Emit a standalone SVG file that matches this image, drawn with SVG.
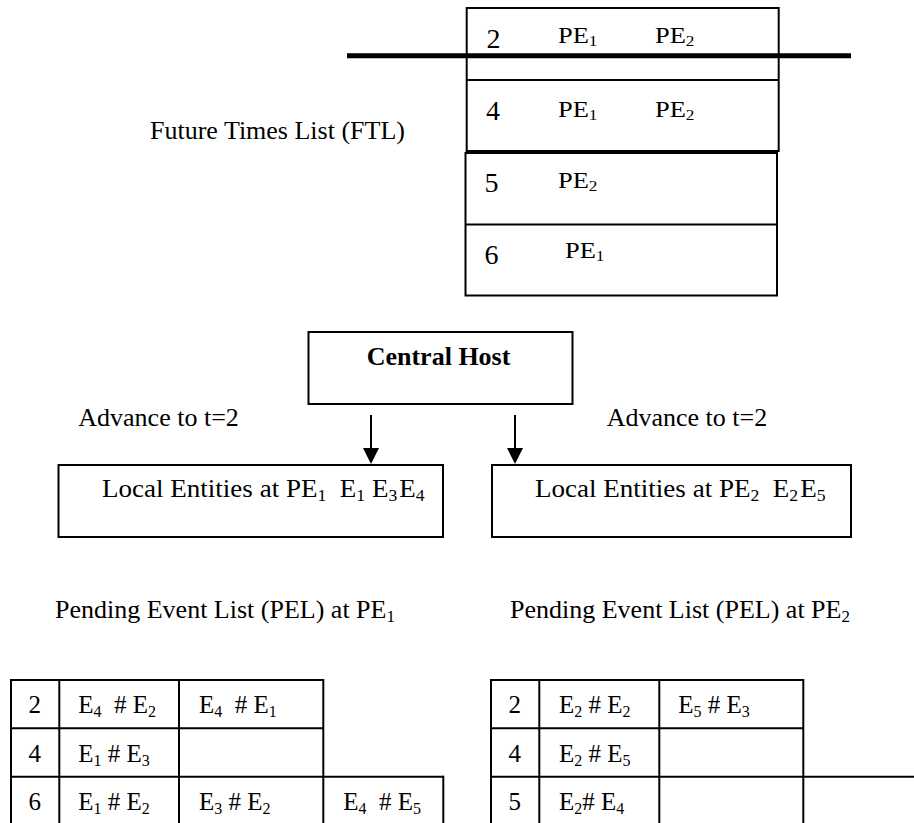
<svg xmlns="http://www.w3.org/2000/svg" width="914" height="823" viewBox="0 0 914 823">
<style>
text{font-family:"Liberation Serif","Times New Roman",serif;fill:#000;white-space:pre}
.m{font-size:26px}
.b{font-size:26px;font-weight:bold}
.d{font-size:28px}
.pe{font-size:23px}
.t{font-size:25px}
.box{fill:none;stroke:#000;stroke-width:2}
.ln{stroke:#000;stroke-width:2;fill:none}
.s1{font-size:17px}
.s2{font-size:15px}
.s3{font-size:16px}
</style>
<rect width="914" height="823" fill="#fff"/>

<g id="ftl-label"><text class="m" x="150" y="139">Future Times List (FTL)</text></g>

<g id="ftl-box1">
<rect class="box" x="466.7" y="8" width="312" height="143"/>
<line class="ln" x1="466.7" y1="80" x2="778.7" y2="80"/>
<text class="d" x="486.5" y="48">2</text>
<text class="pe" transform="translate(558 43) scale(1.15 1)">PE<tspan class="s2" dy="3">1</tspan></text>
<text class="pe" transform="translate(655 43) scale(1.15 1)">PE<tspan class="s2" dy="3">2</tspan></text>
<text class="d" x="486" y="120">4</text>
<text class="pe" transform="translate(558 116.5) scale(1.15 1)">PE<tspan class="s2" dy="3">1</tspan></text>
<text class="pe" transform="translate(655 116.5) scale(1.15 1)">PE<tspan class="s2" dy="3">2</tspan></text>
</g>
<g id="ftl-box2">
<rect class="box" x="465.5" y="153" width="311.5" height="142.5"/>
<line class="ln" x1="465.5" y1="224.5" x2="777" y2="224.5"/>
<text class="d" x="484.5" y="191.5">5</text>
<text class="pe" transform="translate(558 188) scale(1.15 1)">PE<tspan class="s2" dy="3">2</tspan></text>
<text class="d" x="484.5" y="264">6</text>
<text class="pe" transform="translate(565 258) scale(1.15 1)">PE<tspan class="s2" dy="3">1</tspan></text>
</g>
<g id="time-line"><line x1="347" y1="55.7" x2="851" y2="55.7" stroke="#000" stroke-width="5"/></g>

<g id="central-host">
<rect class="box" x="308.5" y="332" width="264" height="72"/>
<text class="b" x="366.7" y="365">Central Host</text>
</g>

<g id="advance-left"><text class="m" x="78.3" y="426">Advance to t=2</text></g>
<g id="advance-right"><text class="m" x="606.7" y="426">Advance to t=2</text></g>

<g id="connectors">
<line class="ln" x1="371" y1="415" x2="371" y2="450"/>
<polygon points="363,448 379,448 371,464" fill="#000"/>
<line class="ln" x1="515" y1="415" x2="515" y2="450"/>
<polygon points="507,448 523,448 515,464" fill="#000"/>
</g>

<g id="local-pe1">
<rect class="box" x="58.5" y="465" width="384.5" height="72" stroke-width="2.5"/>
<text class="m" transform="translate(102 497) scale(1.04 1)">Local Entities at PE<tspan class="s1" dy="4">1</tspan><tspan dy="-4">  E</tspan><tspan class="s1" dy="4">1</tspan><tspan dy="-4"> E</tspan><tspan class="s1" dy="4">3</tspan><tspan dy="-4" dx="2">E</tspan><tspan class="s1" dy="4">4</tspan></text>
</g>
<g id="local-pe2">
<rect class="box" x="492" y="465" width="359" height="72" stroke-width="2.5"/>
<text class="m" transform="translate(535 497) scale(1.04 1)">Local Entities at PE<tspan class="s1" dy="4">2</tspan><tspan dy="-4">  E</tspan><tspan class="s1" dy="4">2</tspan><tspan dy="-4" dx="2">E</tspan><tspan class="s1" dy="4">5</tspan></text>
</g>

<g id="pel-label-1"><text class="m" x="55" y="618.3">Pending Event List (PEL) at PE<tspan class="s1" dy="4">1</tspan></text></g>
<g id="pel-label-2"><text class="m" x="510" y="618.3">Pending Event List (PEL) at PE<tspan class="s1" dy="4">2</tspan></text></g>

<g id="pel-table-1">
<line class="ln" x1="11" y1="680" x2="323.3" y2="680"/>
<line class="ln" x1="11" y1="728.3" x2="323.3" y2="728.3"/>
<line class="ln" x1="11" y1="776.7" x2="443.3" y2="776.7"/>
<line class="ln" x1="11" y1="679" x2="11" y2="823"/>
<line class="ln" x1="59.3" y1="679" x2="59.3" y2="823"/>
<line class="ln" x1="179" y1="679" x2="179" y2="823"/>
<line class="ln" x1="323.3" y1="679" x2="323.3" y2="823"/>
<line class="ln" x1="443.3" y1="775.7" x2="443.3" y2="823"/>
<text class="t" x="28.5" y="713.3">2</text>
<text class="t" x="78.3" y="713.3">E<tspan class="s3" dy="4">4</tspan><tspan dy="-4">  # E</tspan><tspan class="s3" dy="4">2</tspan></text>
<text class="t" x="199" y="713.3">E<tspan class="s3" dy="4">4</tspan><tspan dy="-4">  # E</tspan><tspan class="s3" dy="4">1</tspan></text>
<text class="t" x="28.5" y="761.7">4</text>
<text class="t" x="78.3" y="761.7">E<tspan class="s3" dy="4">1</tspan><tspan dy="-4"> # E</tspan><tspan class="s3" dy="4">3</tspan></text>
<text class="t" x="28.5" y="810">6</text>
<text class="t" x="78.3" y="810">E<tspan class="s3" dy="4">1</tspan><tspan dy="-4"> # E</tspan><tspan class="s3" dy="4">2</tspan></text>
<text class="t" x="199" y="810">E<tspan class="s3" dy="4">3</tspan><tspan dy="-4"> # E</tspan><tspan class="s3" dy="4">2</tspan></text>
<text class="t" x="343.3" y="810">E<tspan class="s3" dy="4">4</tspan><tspan dy="-4">  # E</tspan><tspan class="s3" dy="4">5</tspan></text>
</g>

<g id="pel-table-2">
<line class="ln" x1="491" y1="680" x2="803.3" y2="680"/>
<line class="ln" x1="491" y1="728.3" x2="803.3" y2="728.3"/>
<line class="ln" x1="491" y1="776.7" x2="914" y2="776.7"/>
<line class="ln" x1="491" y1="679" x2="491" y2="823"/>
<line class="ln" x1="539.3" y1="679" x2="539.3" y2="823"/>
<line class="ln" x1="659.3" y1="679" x2="659.3" y2="823"/>
<line class="ln" x1="803.3" y1="679" x2="803.3" y2="823"/>
<text class="t" x="508.5" y="713.3">2</text>
<text class="t" x="559" y="713.3">E<tspan class="s3" dy="4">2</tspan><tspan dy="-4"> # E</tspan><tspan class="s3" dy="4">2</tspan></text>
<text class="t" x="678.3" y="713.3">E<tspan class="s3" dy="4">5</tspan><tspan dy="-4"> # E</tspan><tspan class="s3" dy="4">3</tspan></text>
<text class="t" x="508.5" y="761.7">4</text>
<text class="t" x="559" y="761.7">E<tspan class="s3" dy="4">2</tspan><tspan dy="-4"> # E</tspan><tspan class="s3" dy="4">5</tspan></text>
<text class="t" x="508.5" y="810">5</text>
<text class="t" x="559" y="810">E<tspan class="s3" dy="4">2</tspan><tspan dy="-4"># E</tspan><tspan class="s3" dy="4">4</tspan></text>
</g>
</svg>
